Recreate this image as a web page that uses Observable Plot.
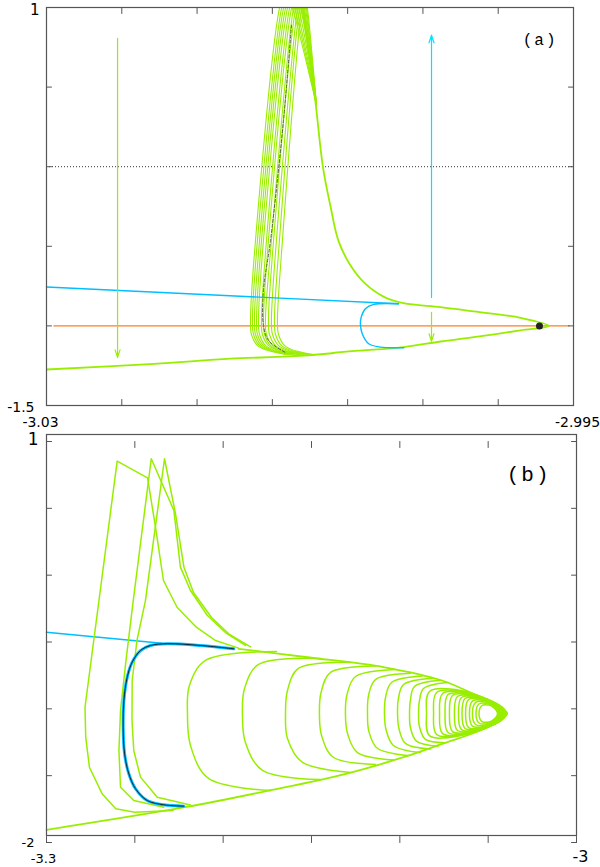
<!DOCTYPE html>
<html>
<head>
<meta charset="utf-8">
<script src="https://cdn.jsdelivr.net/npm/d3@7"></script>
<script src="https://cdn.jsdelivr.net/npm/@observablehq/plot@0.6"></script>
<style>
  html, body { margin: 0; padding: 0; background: #fff; }
  #page { position: relative; width: 600px; height: 867px; overflow: hidden; }
  #panelA, #panelB { position: absolute; left: 0; }
  #panelA { top: 0; }
  #panelB { top: 422px; }
</style>
</head>
<body>
<div id="page"><div id="panelA"></div><div id="panelB"></div></div>
<script>
// ---------- panel (a): close-up of the fold ----------
const xDomainA = [-3.03, -2.995];
const yDomainA = [-1.5, 1];
const xTicksA = [-3.03, -3.025, -3.02, -3.015, -3.01, -3.005, -3.0, -2.995];
const yTicksA = [-1.5, -1, -0.5, 0, 0.5, 1];

// orbit coming down from the top, around the fold tip and out along the lower sheet
const mainA = [
  [-3.0130, 1.03], [-3.01291, 0.962], [-3.01266, 0.774], [-3.01215, 0.417],
  [-3.01164, -0.002], [-3.01113, -0.253], [-3.01062, -0.463], [-3.00988, -0.609],
  [-3.00883, -0.735], [-3.00756, -0.819], [-3.00629, -0.857], [-3.00383, -0.882],
  [-3.00162, -0.909], [-2.99852, -0.949], [-2.99664, -1.0], [-2.99852, -1.028],
  [-3.00162, -1.071], [-3.00383, -1.098], [-3.00627, -1.133], [-3.01048, -1.165],
  [-3.0114, -1.175], [-3.01393, -1.192], [-3.01778, -1.206], [-3.02283, -1.238],
  [-3.03, -1.274]
];

// repeated excursions: common y levels, one row of x values per pass
const bundleLevels = [-1.179, -1.129, -1.054, -0.966, -0.463, 0.996, 1.121, 0.996, 0.386];
const bundleX = [
  [-3.01413, -3.01592, -3.01639, -3.01645, -3.01612, -3.01453, -3.01413, -3.01366, -3.01207],
  [-3.01400, -3.01579, -3.01625, -3.01632, -3.01599, -3.01439, -3.01400, -3.01353, -3.01207],
  [-3.01386, -3.01566, -3.01612, -3.01619, -3.01585, -3.01426, -3.01386, -3.01340, -3.01207],
  [-3.01373, -3.01552, -3.01599, -3.01605, -3.01572, -3.01413, -3.01373, -3.01326, -3.01207],
  [-3.01360, -3.01539, -3.01585, -3.01592, -3.01559, -3.01400, -3.01360, -3.01313, -3.01207],
  [-3.01340, -3.01519, -3.01566, -3.01572, -3.01539, -3.01386, -3.01346, -3.01307, -3.01207],
  [-3.01326, -3.01506, -3.01552, -3.01559, -3.01526, -3.01373, -3.01333, -3.01300, -3.01207],
  [-3.01313, -3.01492, -3.01539, -3.01546, -3.01506, -3.01360, -3.01326, -3.01293, -3.01207],
  [-3.01293, -3.01473, -3.01519, -3.01526, -3.01492, -3.01346, -3.01313, -3.01287, -3.01207],
  [-3.01273, -3.01453, -3.01499, -3.01506, -3.01473, -3.01333, -3.01307, -3.01280, -3.01207],
  [-3.01253, -3.01433, -3.01479, -3.01486, -3.01453, -3.01320, -3.01293, -3.01273, -3.01207],
  [-3.01234, -3.01413, -3.01459, -3.01466, -3.01433, -3.01307, -3.01287, -3.01267, -3.01207]
];

const dashedA = [
  [-3.01373, 0.889], [-3.01426, 0.292], [-3.01512, -0.463], [-3.01559, -0.777],
  [-3.01559, -0.997], [-3.01526, -1.091], [-3.01413, -1.167]
];
const orangeA = [[-3.0295, -1], [-2.9953, -1]];
const cyanLineA = [[-3.03, -0.756], [-3.00662, -0.861]];
const cyanLoopA = [
  [-3.00662, -0.861], [-3.00826, -0.865], [-3.00882, -0.892], [-3.0091, -0.945],
  [-3.00915, -0.993], [-3.00903, -1.049], [-3.0086, -1.112], [-3.00782, -1.133],
  [-3.00627, -1.137]
];
const equilibriumA = [[-2.99726, -1.0]];
const arrowDownA = [{x: -3.02528, from: 0.807, to: -1.198}];
const arrowUpA = [{x: -3.00443, from: -0.821, to: 0.826}];
const arrowShortA = [{x: -3.00443, from: -0.915, to: -1.097}];

// ---------- panel (b): wider view ----------
const xDomainB = [-3.3, -3.0];
const yDomainB = [-2, 1];
const xTicksB = [-3.3, -3.25, -3.2, -3.15, -3.1, -3.05, -3.0];
const yTicksB = [-2, -1.5, -1, -0.5, 0, 0.5, 1];

const mainB = [
  [-3.3, -1.905], [-3.2217, -1.736], [-3.1739, -1.611], [-3.1305, -1.486],
  [-3.0979, -1.362], [-3.0761, -1.262], [-3.0545, -1.162], [-3.0436, -1.087],
  [-3.0392, -1.035], [-3.0436, -0.983], [-3.0545, -0.913], [-3.0761, -0.788],
  [-3.1087, -0.689], [-3.1523, -0.614], [-3.1913, -0.551]
];
const cyanLineB = [[-3.3, -0.427], [-3.2348, -0.509]];
const blueLoopB = [
  [-3.1940, -0.551], [-3.2128, -0.526], [-3.2317, -0.513], [-3.2411, -0.526],
  [-3.2468, -0.564], [-3.2515, -0.651], [-3.2543, -0.763], [-3.2562, -0.938],
  [-3.2566, -1.137], [-3.2558, -1.336], [-3.2534, -1.486], [-3.2496, -1.598],
  [-3.2430, -1.686], [-3.2336, -1.718], [-3.2223, -1.728]
];
const spikesB = [
  [[-3.2283, -1.761], [-3.2500, -1.773], [-3.2608, -1.748], [-3.2685, -1.636],
   [-3.2757, -1.437], [-3.2778, -1.212], [-3.2782, -0.988], [-3.2600, 0.853],
   [-3.2428, 0.728], [-3.2380, 0.334], [-3.2338, -0.040], [-3.2261, -0.240],
   [-3.2152, -0.389], [-3.2043, -0.489], [-3.1913, -0.546]],
  [[-3.2336, -1.736], [-3.2506, -1.686], [-3.2581, -1.586], [-3.2590, -1.312],
   [-3.2581, -1.012], [-3.2550, -0.638], [-3.2509, -0.190], [-3.2407, 0.871],
   [-3.2279, 0.484], [-3.2242, 0.060], [-3.2185, -0.115], [-3.2089, -0.302],
   [-3.1987, -0.429], [-3.1874, -0.526]],
  [[-3.2185, -1.719], [-3.2373, -1.661], [-3.2468, -1.511], [-3.2506, -1.312],
   [-3.2516, -1.087], [-3.2515, -0.788], [-3.2488, -0.489], [-3.2440, -0.190],
   [-3.2332, 0.871], [-3.2270, 0.461], [-3.2222, 0.060], [-3.2168, -0.130],
   [-3.2066, -0.317], [-3.1964, -0.444], [-3.1845, -0.537]]
];
// outer turns of the spiral: upper join, left arc, lower join
const turnsB = [
  [[-3.1698, -0.571], [-3.2100, -0.638], [-3.2191, -0.825], [-3.2202, -1.035], [-3.2185, -1.274], [-3.2083, -1.521], [-3.1732, -1.611]],
  [[-3.1449, -0.623], [-3.1800, -0.668], [-3.1879, -0.848], [-3.1891, -1.035], [-3.1874, -1.252], [-3.1777, -1.461], [-3.1449, -1.529]],
  [[-3.1279, -0.653], [-3.1574, -0.698], [-3.1636, -0.863], [-3.1647, -1.035], [-3.1636, -1.222], [-3.1551, -1.401], [-3.1279, -1.476]],
  [[-3.1138, -0.680], [-3.1392, -0.728], [-3.1446, -0.878], [-3.1455, -1.035], [-3.1443, -1.200], [-3.1375, -1.364], [-3.1138, -1.416]],
  [[-3.1025, -0.706], [-3.1251, -0.758], [-3.1299, -0.893], [-3.1308, -1.035], [-3.1296, -1.185], [-3.1240, -1.327], [-3.1036, -1.383]],
  [[-3.0940, -0.733], [-3.1138, -0.781], [-3.1177, -0.900], [-3.1183, -1.035], [-3.1175, -1.170], [-3.1126, -1.297], [-3.0951, -1.349]],
  [[-3.0872, -0.754], [-3.1047, -0.803], [-3.1081, -0.915], [-3.1087, -1.035], [-3.1078, -1.155], [-3.1036, -1.274], [-3.0883, -1.327]],
  [[-3.0815, -0.771], [-3.0979, -0.818], [-3.1008, -0.923], [-3.1013, -1.035], [-3.1005, -1.147], [-3.0968, -1.259], [-3.0826, -1.301]],
  [[-3.0770, -0.786], [-3.0917, -0.833], [-3.0940, -0.934], [-3.0945, -1.035], [-3.0940, -1.140], [-3.0906, -1.241], [-3.0781, -1.279]],
  [[-3.0730, -0.803], [-3.0866, -0.848], [-3.0889, -0.941], [-3.0894, -1.035], [-3.0889, -1.132], [-3.0855, -1.229], [-3.0742, -1.253]]
];
// inner turns wrapping closely round the focus
const ringsB = [
  [[-3.0849, -1.035], [-3.0832, -0.870], [-3.0657, -0.863], [-3.0425, -0.983], [-3.0396, -1.035], [-3.0425, -1.087], [-3.0657, -1.200], [-3.0832, -1.200]],
  [[-3.0809, -1.035], [-3.0792, -0.878], [-3.0634, -0.874], [-3.0427, -0.983], [-3.0399, -1.035], [-3.0427, -1.087], [-3.0634, -1.192], [-3.0792, -1.192]],
  [[-3.0775, -1.035], [-3.0758, -0.885], [-3.0617, -0.882], [-3.0430, -0.983], [-3.0402, -1.035], [-3.0430, -1.087], [-3.0617, -1.185], [-3.0758, -1.185]],
  [[-3.0744, -1.035], [-3.0727, -0.893], [-3.0600, -0.893], [-3.0436, -0.983], [-3.0408, -1.035], [-3.0436, -1.087], [-3.0600, -1.177], [-3.0727, -1.177]],
  [[-3.0719, -1.035], [-3.0702, -0.900], [-3.0589, -0.900], [-3.0442, -0.983], [-3.0413, -1.035], [-3.0442, -1.087], [-3.0589, -1.170], [-3.0702, -1.170]],
  [[-3.0691, -1.035], [-3.0674, -0.908], [-3.0572, -0.908], [-3.0444, -0.983], [-3.0416, -1.035], [-3.0444, -1.087], [-3.0572, -1.162], [-3.0674, -1.162]],
  [[-3.0668, -1.035], [-3.0651, -0.915], [-3.0560, -0.915], [-3.0447, -0.983], [-3.0419, -1.035], [-3.0447, -1.087], [-3.0560, -1.155], [-3.0651, -1.155]],
  [[-3.0648, -1.035], [-3.0631, -0.923], [-3.0549, -0.923], [-3.0453, -0.983], [-3.0425, -1.035], [-3.0453, -1.087], [-3.0549, -1.147], [-3.0631, -1.147]],
  [[-3.0628, -1.035], [-3.0611, -0.930], [-3.0538, -0.930], [-3.0458, -0.983], [-3.0430, -1.035], [-3.0458, -1.087], [-3.0538, -1.140], [-3.0611, -1.140]],
  [[-3.0606, -1.035], [-3.0589, -0.942], [-3.0526, -0.938], [-3.0461, -0.983], [-3.0433, -1.035], [-3.0461, -1.087], [-3.0526, -1.132], [-3.0589, -1.129]],
  [[-3.0589, -1.035], [-3.0572, -0.953], [-3.0515, -0.949], [-3.0464, -0.983], [-3.0436, -1.035], [-3.0464, -1.087], [-3.0515, -1.121], [-3.0572, -1.117]],
  [[-3.0569, -1.035], [-3.0552, -0.964], [-3.0504, -0.960], [-3.0470, -0.983], [-3.0442, -1.035], [-3.0470, -1.087], [-3.0504, -1.110], [-3.0552, -1.106]],
  [[-3.0552, -1.035], [-3.0535, -0.975], [-3.0498, -0.971], [-3.0475, -0.983], [-3.0447, -1.035], [-3.0475, -1.087], [-3.0498, -1.099], [-3.0535, -1.095]]
];

// ---------- styling ----------
const green = "#99ee00";
const cyan = "#00bfff";
const cyanArrow = "#00e5ff";
const orange = "#ff7f24";
const axisColor = "#555";
const px = d => d[0], py = d => d[1];

const toRows = (paths) => paths.flatMap((p, i) => p.map(([x, y]) => ({x, y, id: i})));
const bundleRows = bundleX.flatMap((xs, i) => xs.map((x, j) => ({x, y: bundleLevels[j], id: i})));

// gnuplot-style ticks pointing into the box
const inwardTick = {draw(context, l) { context.moveTo(0, 0); context.lineTo(0, -l); }};
function boxTicks(xt, yt, xd, yd) {
  const common = {anchor: "start", shape: inwardTick, stroke: axisColor, strokeWidth: 1};
  return [
    Plot.vector(xt, {...common, x: d => d, y: yd[0], length: 6, rotate: 0}),
    Plot.vector(xt, {...common, x: d => d, y: yd[1], length: 6, rotate: 180}),
    Plot.vector(yt, {...common, x: xd[0], y: d => d, length: 5, rotate: 90}),
    Plot.vector(yt, {...common, x: xd[1], y: d => d, length: 5, rotate: -90})
  ];
}
const label = (text, opts) => Plot.text([text], {text: d => d, fill: "#000", fontFamily: "DejaVu Sans", ...opts});
const arrow = (data, stroke) => Plot.arrow(data, {
  x1: "x", x2: "x", y1: "from", y2: "to", stroke, strokeWidth: 1.2, headLength: 10, headAngle: 36
});

const plotA = Plot.plot({
  width: 600, height: 432,
  marginLeft: 46, marginRight: 27, marginTop: 7, marginBottom: 27,
  x: {domain: xDomainA, axis: null},
  y: {domain: yDomainA, axis: null},
  style: {overflow: "visible", background: "transparent"},
  marks: [
    Plot.ruleY([0], {stroke: "#333", strokeDasharray: "1,2", strokeWidth: 1}),
    Plot.line(orangeA, {x: px, y: py, stroke: orange, strokeWidth: 1.4}),
    Plot.line(bundleRows, {x: "x", y: "y", z: "id", stroke: green, strokeWidth: 1.1, curve: "catmull-rom", clip: true}),
    Plot.line(dashedA, {x: px, y: py, stroke: "#5a6248", strokeWidth: 1, strokeDasharray: "3,2", curve: "catmull-rom"}),
    Plot.line(mainA, {x: px, y: py, stroke: green, strokeWidth: 1.8, curve: "catmull-rom", clip: true}),
    Plot.line(cyanLineA, {x: px, y: py, stroke: cyan, strokeWidth: 1.4}),
    Plot.line(cyanLoopA, {x: px, y: py, stroke: cyan, strokeWidth: 1.4, curve: "catmull-rom"}),
    arrow(arrowDownA, green),
    arrow(arrowUpA, cyanArrow),
    arrow(arrowShortA, green),
    Plot.dot(equilibriumA, {x: px, y: py, r: 3.5, fill: "#222"}),
    Plot.frame({stroke: axisColor, strokeWidth: 1.2}),
    ...boxTicks(xTicksA, yTicksA, xDomainA, yDomainA),
    label("1", {x: xDomainA[0], y: yDomainA[1], dx: -7, dy: 3, textAnchor: "end", fontSize: 15}),
    label("-1.5", {x: xDomainA[0], y: yDomainA[0], dx: -12, dy: 2, textAnchor: "end", fontSize: 14}),
    label("-3.03", {x: xDomainA[0], y: yDomainA[0], dx: -6, dy: 17, fontSize: 14}),
    label("-2.995", {x: xDomainA[1], y: yDomainA[0], dx: 4, dy: 17, fontSize: 14}),
    label("(a)", {frameAnchor: "top-right", dx: -16, dy: 26, fontFamily: "Liberation Mono", fontSize: 16})
  ]
});

const plotB = Plot.plot({
  width: 600, height: 445,
  marginLeft: 46, marginRight: 24, marginTop: 19, marginBottom: 25,
  x: {domain: xDomainB, axis: null},
  y: {domain: yDomainB, axis: null},
  style: {overflow: "visible", background: "transparent"},
  marks: [
    Plot.line(cyanLineB, {x: px, y: py, stroke: cyan, strokeWidth: 1.6}),
    Plot.line(toRows(spikesB), {x: "x", y: "y", z: "id", stroke: green, strokeWidth: 1.5}),
    Plot.line(mainB, {x: px, y: py, stroke: green, strokeWidth: 1.8, curve: "catmull-rom"}),
    Plot.line(toRows(turnsB), {x: "x", y: "y", z: "id", stroke: green, strokeWidth: 1.5, curve: "catmull-rom"}),
    Plot.line(toRows(ringsB), {x: "x", y: "y", z: "id", stroke: green, strokeWidth: 1.5, curve: "catmull-rom-closed"}),
    Plot.line(blueLoopB, {x: px, y: py, stroke: cyan, strokeWidth: 3, curve: "catmull-rom"}),
    Plot.line(blueLoopB, {x: px, y: py, stroke: "#06243a", strokeWidth: 1, curve: "catmull-rom"}),
    Plot.frame({stroke: axisColor, strokeWidth: 1.2, dy: -7}),
    ...boxTicks(xTicksB, yTicksB, xDomainB, yDomainB),
    label("1", {x: xDomainB[0], y: yDomainB[1], dx: -8, dy: -2, textAnchor: "end", fontSize: 17}),
    label("-2", {x: xDomainB[0], y: yDomainB[0], dx: -12, dy: 0, textAnchor: "end", fontSize: 13}),
    label("-3.3", {x: xDomainB[0], y: yDomainB[0], dx: -3, dy: 16, fontSize: 13}),
    label("-3", {x: xDomainB[1], y: yDomainB[0], dx: 4, dy: 14, fontSize: 16}),
    label("(b)", {frameAnchor: "top-right", dx: -26, dy: 25, fontFamily: "Liberation Mono", fontSize: 21})
  ]
});

// wide letter spacing for the panel tags, as in the typewriter face
for (const plot of [plotA, plotB]) {
  d3.select(plot).selectAll("text")
    .filter(function () { return /^\([ab]\)$/.test(this.textContent); })
    .attr("letter-spacing", "2px");
}

document.getElementById("panelA").append(plotA);
document.getElementById("panelB").append(plotB);
</script>
</body>
</html>
